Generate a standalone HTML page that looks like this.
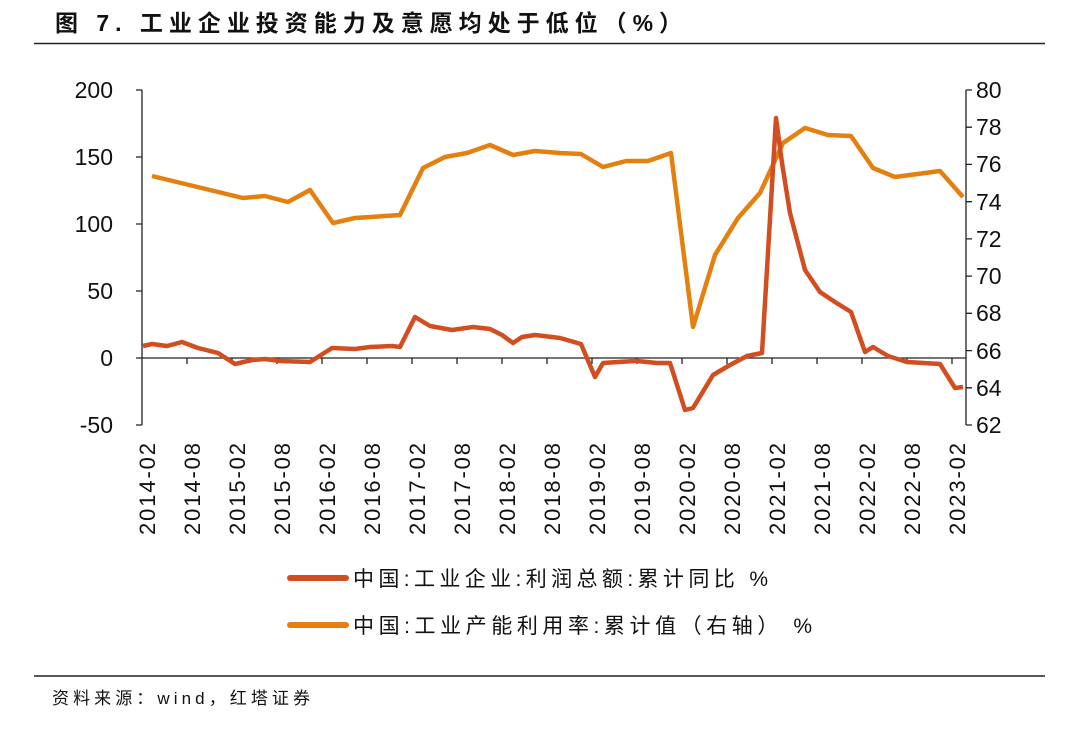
<!DOCTYPE html>
<html><head><meta charset="utf-8"><style>
body{margin:0;background:#fff;width:1080px;height:725px;overflow:hidden}
svg text{font-family:"Liberation Sans","Noto Sans CJK SC",sans-serif}
</style></head><body>
<svg width="1080" height="725" viewBox="0 0 1080 725" xmlns="http://www.w3.org/2000/svg">
<text x="55" y="31" font-size="23" font-weight="bold" fill="#111" textLength="627" lengthAdjust="spacing">图 7. 工业企业投资能力及意愿均处于低位（%）</text>
<line x1="34" y1="43.5" x2="1045" y2="43.5" stroke="#222" stroke-width="1.5"/>
<g stroke="#222" stroke-width="1.3" fill="none">
<line x1="142" y1="90" x2="142" y2="425"/>
<line x1="966" y1="90" x2="966" y2="425"/>
<line x1="142" y1="358" x2="966" y2="358"/>
<path d="M136 90H142M136 157H142M136 224H142M136 291H142M136 358H142M136 425H142"/>
<path d="M966 90H972M966 127.2H972M966 164.4H972M966 201.7H972M966 238.9H972M966 276.1H972M966 313.3H972M966 350.6H972M966 387.8H972M966 425H972"/>
<path d="M187 358V364M232 358V364M277 358V364M322 358V364M367 358V364M412 358V364M457 358V364M502 358V364M547 358V364M592 358V364M637 358V364M682 358V364M727 358V364M772 358V364M817 358V364M862 358V364M907 358V364M952 358V364"/>
</g>
<g font-size="23" fill="#111" text-anchor="end">
<text x="113" y="98">200</text><text x="113" y="165">150</text><text x="113" y="232">100</text><text x="113" y="299">50</text><text x="113" y="366">0</text><text x="113" y="433">-50</text>
</g>
<g font-size="23" fill="#111">
<text x="976" y="98">80</text><text x="976" y="135">78</text><text x="976" y="172">76</text><text x="976" y="210">74</text><text x="976" y="247">72</text><text x="976" y="284">70</text><text x="976" y="321">68</text><text x="976" y="359">66</text><text x="976" y="396">64</text><text x="976" y="433">62</text>
</g>
<g font-size="22" fill="#111" text-anchor="end">
<text transform="translate(155,443) rotate(-90)" textLength="92">2014-02</text>
<text transform="translate(200,443) rotate(-90)" textLength="92">2014-08</text>
<text transform="translate(245,443) rotate(-90)" textLength="92">2015-02</text>
<text transform="translate(290,443) rotate(-90)" textLength="92">2015-08</text>
<text transform="translate(335,443) rotate(-90)" textLength="92">2016-02</text>
<text transform="translate(380,443) rotate(-90)" textLength="92">2016-08</text>
<text transform="translate(425,443) rotate(-90)" textLength="92">2017-02</text>
<text transform="translate(470,443) rotate(-90)" textLength="92">2017-08</text>
<text transform="translate(515,443) rotate(-90)" textLength="92">2018-02</text>
<text transform="translate(560,443) rotate(-90)" textLength="92">2018-08</text>
<text transform="translate(605,443) rotate(-90)" textLength="92">2019-02</text>
<text transform="translate(650,443) rotate(-90)" textLength="92">2019-08</text>
<text transform="translate(695,443) rotate(-90)" textLength="92">2020-02</text>
<text transform="translate(740,443) rotate(-90)" textLength="92">2020-08</text>
<text transform="translate(785,443) rotate(-90)" textLength="92">2021-02</text>
<text transform="translate(830,443) rotate(-90)" textLength="92">2021-08</text>
<text transform="translate(875,443) rotate(-90)" textLength="92">2022-02</text>
<text transform="translate(920,443) rotate(-90)" textLength="92">2022-08</text>
<text transform="translate(965,443) rotate(-90)" textLength="92">2023-02</text>
</g>
<polyline fill="none" stroke="#e3800f" stroke-width="4.5" stroke-linejoin="round" points="152,176 243,198 265,196 288,202 310,190 333,223 355,218 400,215 423,168 445,157 467,153 490,145 513,155 535,151 560,153 581,154 603,167 626,161 648,161 671,153 693,327 715,255 738,218 760,193 783,143 805,128 828,135 851,136 873,168 895,177 940,171 963,197"/>
<polyline fill="none" stroke="#d24e21" stroke-width="4.5" stroke-linejoin="round" points="143,346 152,344 167,346 182,342 198,348 218,353 235,364 252,360 265,359 280,361 310,362 332,348 355,349 370,347 392,346 400,347 415,317 430,326 452,330 473,327 490,329 502,335 513,343 522,337 535,335 560,338 581,344 595,377 603,363 618,362 637,361 657,363 670,363 685,410 693,408 713,375 730,365 747,356 762,353 776,118 782,163 790,213 805,270 820,292 835,302 851,312 865,352 873,347 888,356 907,362 940,364 955,388 963,387"/>
<line x1="290" y1="578" x2="346" y2="578" stroke="#d24e21" stroke-width="6" stroke-linecap="round"/>
<line x1="290" y1="625" x2="346" y2="625" stroke="#e3800f" stroke-width="6" stroke-linecap="round"/>
<g font-size="21" fill="#111">
<text x="353" y="586" textLength="415" lengthAdjust="spacing">中国:工业企业:利润总额:累计同比 %</text>
<text x="353" y="633" textLength="459" lengthAdjust="spacing">中国:工业产能利用率:累计值（右轴） %</text>
</g>
<line x1="34" y1="676" x2="1045" y2="676" stroke="#222" stroke-width="1.5"/>
<text x="52" y="704" font-size="17" fill="#111" textLength="258" lengthAdjust="spacing">资料来源：wind，红塔证券</text>
</svg>
</body></html>
